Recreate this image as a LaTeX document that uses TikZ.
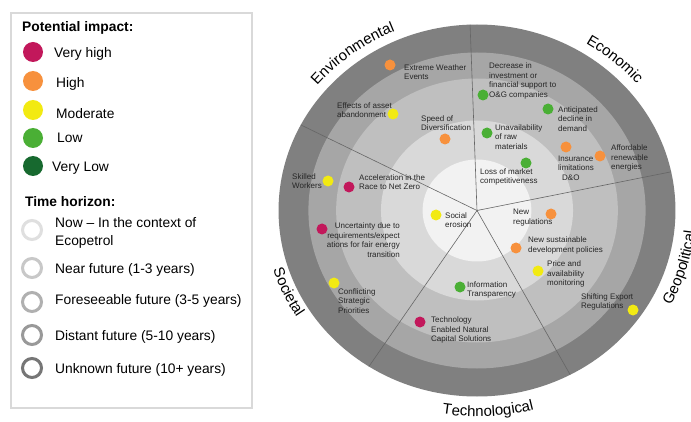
\documentclass[tikz,border=0pt]{standalone}
\usepackage{fontspec}
\setmainfont{Liberation Sans}
\usepackage{xcolor}
\usepackage{tikz}
\usetikzlibrary{decorations.text}
\definecolor{ImpVeryHigh}{HTML}{C2185B}
\definecolor{ImpHigh}{HTML}{F7913D}
\definecolor{ImpModerate}{HTML}{F2EA12}
\definecolor{ImpLow}{HTML}{4AAF35}
\definecolor{ImpVeryLow}{HTML}{17692F}
\definecolor{RingNow}{HTML}{F2F2F2}
\definecolor{RingNear}{HTML}{D9D9D9}
\definecolor{RingFore}{HTML}{BFBFBF}
\definecolor{RingDist}{HTML}{A6A6A6}
\definecolor{RingUnkn}{HTML}{808080}
\newcommand\catfont{\fontsize{15}{18}\selectfont}

\begin{document}
\begin{tikzpicture}[x=1pt, y=-1pt,
		impdot/.style={circle, inner sep=0pt, minimum size=11pt},
		keydot/.style={circle, inner sep=0pt, minimum size=20pt},
		keyring/.style={circle, draw, line width=3pt, inner sep=0pt, minimum size=19pt},
		keytext/.style={anchor=base west, inner sep=0pt, align=left, font=\fontsize{13.8}{18}\selectfont},
		risktext/.style={anchor=west, inner sep=0pt, align=left, text=black!85, font=\fontsize{8}{9.7}\selectfont}]
			\fill[white] (0,0) rectangle (691,422);
			\useasboundingbox (0,0) rectangle (691,422);

			% legend
			\draw[black!15, line width=1.2pt] (11,13) rectangle (252,408);
			\node[keytext, font=\fontsize{13.8}{18}\selectfont\bfseries] (impacttitle) at (22,32) {Potential impact:};
			\foreach \n/\y/\c/\tx/\ty/\t in {vh/52/ImpVeryHigh/54/58/Very high, hi/81/ImpHigh/56/88/High,
				mo/110/ImpModerate/56/119/Moderate, lo/138/ImpLow/57/143/Low, vl/166/ImpVeryLow/52/172/Very Low}{
				\node[keydot, fill=\c] (key-\n) at (33,\y) {};
				\node[keytext] (key-\n-t) at (\tx,\ty) {\t};
			}
			\node[keytext, font=\fontsize{13.8}{18}\selectfont\bfseries] (timetitle) at (25,207) {Time horizon:};
			\foreach \n/\y/\c in {now/230/RingNow, near/268/RingNear, fore/302/RingFore, dist/335/RingDist, unkn/368/RingUnkn}{
				\node[keyring, draw=\c!92!black] (key-\n) at (32,\y) {};
			}
			\node[keytext] (key-now-t) at (55,246) {Now -- In the context of\\Ecopetrol};
			\node[keytext] (key-near-t) at (55,273) {Near future (1-3 years)};
			\node[keytext] (key-fore-t) at (55,305) {Foreseeable future (3-5 years)};
			\node[keytext] (key-dist-t) at (55,340) {Distant future (5-10 years)};
			\node[keytext] (key-unkn-t) at (55,373) {Unknown future (10+ years)};

			% wheel
			\begin{scope}[shift={(477,210.5)}, x=1.067pt, y=1pt]
				\coordinate (hub) at (0,0);
				\foreach \r/\c in {186/RingUnkn, 158/RingDist, 132/RingFore, 90/RingNear, 51/RingNow}{
					\fill[\c] (hub) circle[radius=\r];
				}
				\foreach \a in {92, 12, -62, -123, 152.6}{
					\draw[black!60, line width=.6pt] (hub) -- (\a:186);
				}
				% category names round the rim
				\newcommand\rimlabel[4]{%
					\path[decorate, decoration={text along path, text align=center, text={|\catfont|#4}}]
						(#2:#1) arc[start angle=#2, end angle=#3, radius=#1];
				}
				\rimlabel{195}{157}{97}{Environmental}
				\rimlabel{196}{79}{19}{Economic}
				\rimlabel{205}{-46.5}{13.5}{Geopolitical}
				\rimlabel{206}{-117}{-57}{Technological}
				\rimlabel{200}{175}{234}{Societal}
			\end{scope}

			% risks
			\foreach \n/\x/\y/\c in {ew/390/65/ImpHigh, ea/393/114/ImpModerate, sd/445/139/ImpHigh,
				sw/328/181/ImpModerate, ar/349/187/ImpVeryHigh, di/483/95/ImpLow, ad/548/109/ImpLow,
				ur/487/133/ImpLow, lm/526/163/ImpLow, il/566/147/ImpHigh, ae/600/156/ImpHigh,
				se/436/215/ImpModerate, ut/322/229/ImpVeryHigh, cs/334/283/ImpModerate, te/420/322/ImpVeryHigh,
				it/460/287/ImpLow, nr/551/214/ImpHigh, ns/516/248/ImpHigh, pa/538/271/ImpModerate,
				sx/633/310/ImpModerate}{
				\node[impdot, fill=\c] (\n) at (\x,\y) {};
			}
			\node[risktext] (ew-t) at (404,72) {Extreme Weather\\Events};
			\node[risktext] (ea-t) at (337,110) {Effects of asset\\abandonment};
			\node[risktext] (sd-t) at (421,123) {Speed of\\Diversification};
			\node[risktext] (sw-t) at (292,181) {Skilled\\Workers};
			\node[risktext] (ar-t) at (359,182) {Acceleration in the\\Race to Net Zero};
			\node[risktext] (di-t) at (489,81) {Decrease in\\investment or\\financial support to\\O\&G companies};
			\node[risktext] (ad-t) at (558,119) {Anticipated\\decline in\\demand};
			\node[risktext] (ur-t) at (495,137) {Unavailability\\of raw\\materials};
			\node[risktext] (lm-t) at (480,177) {Loss of market\\competitiveness};
			\node[risktext] (il-t) at (558,168) {Insurance\\limitations\\\hspace{4pt}D\&O};
			\node[risktext] (ae-t) at (611,158) {Affordable\\renewable\\energies};
			\node[risktext] (se-t) at (445,220) {Social\\erosion};
			\node[risktext, anchor=east, align=right] (ut-t) at (400,240) {Uncertainty due to\\requirements/expect\\ations for fair energy\\transition};
			\node[risktext] (cs-t) at (338,301) {Conflicting\\Strategic\\Priorities};
			\node[risktext] (te-t) at (431,330) {Technology\\Enabled Natural\\Capital Solutions};
			\node[risktext] (it-t) at (467,290) {Information\\Transparency};
			\node[risktext] (nr-t) at (513,217.5) {New\\regulations};
			\node[risktext] (ns-t) at (528,245.5) {New sustainable\\development policies};
			\node[risktext] (pa-t) at (547,274) {Price and\\availability\\monitoring};
			\node[risktext] (sx-t) at (581,302) {Shifting Export\\Regulations};

		\end{tikzpicture}
\end{document}
